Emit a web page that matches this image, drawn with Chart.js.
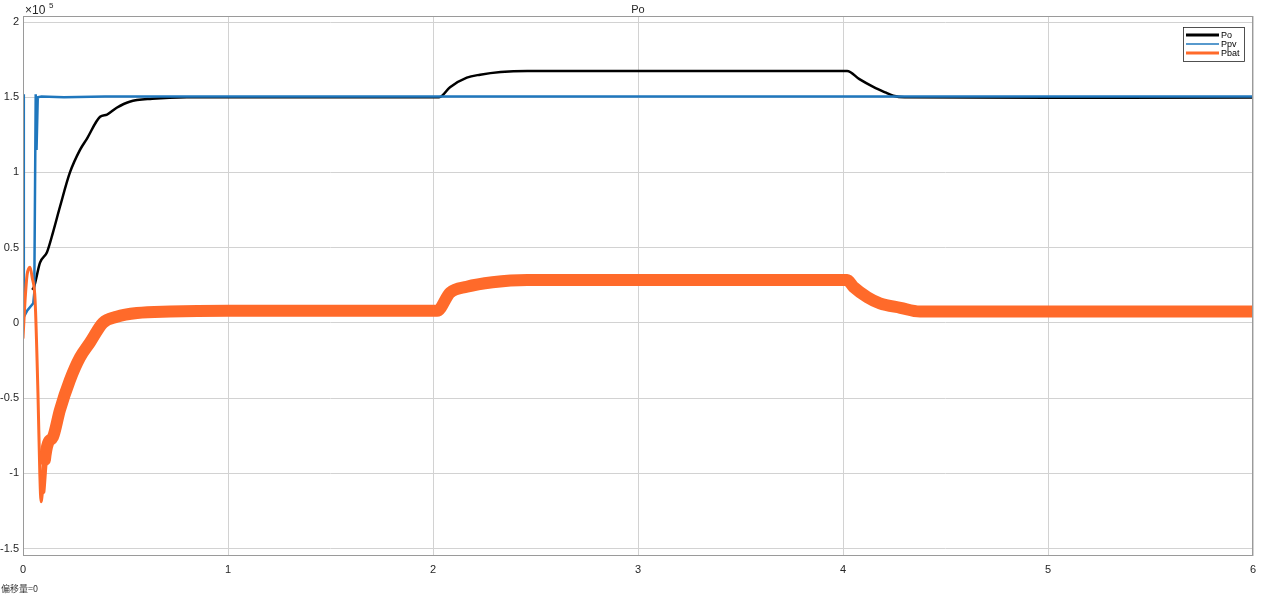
<!DOCTYPE html>
<html>
<head>
<meta charset="utf-8">
<title>Po</title>
<script src="https://cdn.jsdelivr.net/npm/chart.js@4/dist/chart.umd.min.js"></script>
<style>
  body { margin: 0; background: #fff; }
  #wrap { width: 1264px; height: 597px; }
</style>
</head>
<body>
<div id="wrap"><canvas id="poChart" width="1264" height="597"></canvas></div>
<script>
// tiempos (s) y valores (W)
const poT   = [0.045, 0.054, 0.083, 0.117, 0.146, 0.18, 0.229, 0.278, 0.31, 0.376, 0.41, 0.457, 0.52, 0.63, 0.8, 1.5, 2.03, 2.083, 2.165, 2.23, 2.33, 2.46, 3.0, 3.5, 4.0, 4.02, 4.08, 4.15, 4.21, 4.245, 4.3, 5.0, 6.0];
const poVal = [22000, 24000, 40000, 47000, 60000, 77000, 100000, 115000, 122000, 137000, 138500, 143000, 147000, 149000, 150000, 150000, 150000, 156700, 163000, 165000, 166800, 167500, 167500, 167500, 167500, 167500, 162000, 156700, 153000, 151000, 150000, 149700, 149800];

const ppvT   = [0, 0.004, 0.02, 0.05, 0.055, 0.062, 0.066, 0.072, 0.09, 0.2, 0.4, 1.0, 6.0];
const ppvVal = [152000, 4000, 8000, 13000, 20000, 152000, 115000, 150000, 150500, 150000, 150500, 150500, 150500];

const pbatT   = [0, 0.01, 0.02, 0.034, 0.045, 0.059, 0.073, 0.082, 0.088, 0.095, 0.107, 0.122, 0.146, 0.18, 0.229, 0.278, 0.327, 0.39, 0.457, 0.556, 0.717, 1.0, 1.5, 2.0, 2.02, 2.083, 2.165, 2.29, 2.46, 3.0, 3.5, 4.0, 4.02, 4.05, 4.12, 4.18, 4.28, 4.375, 5.0, 6.0];
const pbatVal = [-10000, 15000, 32000, 37000, 30000, 15000, -47000, -100000, -119000, -112000, -91000, -80000, -76000, -58000, -38000, -23000, -13000, 0, 4000, 6500, 7500, 8000, 8000, 8000, 8000, 20000, 24000, 27000, 28500, 28500, 28500, 28500, 28500, 24000, 17000, 13000, 10000, 7500, 7500, 7500];

const xTicks = [0, 1, 2, 3, 4, 5, 6];
const yTicks = [-150000, -100000, -50000, 0, 50000, 100000, 150000, 200000];

function pares(t, v) {
    return t.map((x, i) => ({ x: x, y: v[i] }));
}

// marco, titulo, exponente, leyenda y nota inferior (estilo MATLAB)
const decoracion = {
    id: 'decoracion',
    afterDraw(chart) {
        const ctx = chart.ctx;
        const a = chart.chartArea;
        ctx.save();
        ctx.strokeStyle = '#9a9a9a';
        ctx.lineWidth = 1;
        ctx.strokeRect(a.left + 0.5, a.top + 0.5, a.right - a.left - 1, a.bottom - a.top - 1);

        ctx.fillStyle = '#262626';
        ctx.font = '11px "Liberation Sans", Arial, sans-serif';
        ctx.textAlign = 'center';
        ctx.textBaseline = 'alphabetic';
        ctx.fillText('Po', (a.left + a.right) / 2, 13);

        ctx.textAlign = 'left';
        ctx.font = '12px "Liberation Sans", Arial, sans-serif';
        ctx.fillText('\u00d710', a.left + 2, 14);
        ctx.font = '8px "Liberation Sans", Arial, sans-serif';
        ctx.fillText('5', a.left + 26, 8);

        // leyenda
        const lx = 1183, ly = 27, lw = 61, lh = 34;
        ctx.fillStyle = '#fff';
        ctx.fillRect(lx, ly, lw, lh);
        ctx.strokeStyle = '#262626';
        ctx.lineWidth = 0.8;
        ctx.strokeRect(lx + 0.5, ly + 0.5, lw, lh);
        const ys = [35, 44, 53];
        chart.data.datasets.forEach((ds, i) => {
            ctx.strokeStyle = ds.borderColor;
            ctx.lineWidth = ds.legendWidth;
            ctx.beginPath();
            ctx.moveTo(1186, ys[i]);
            ctx.lineTo(1219, ys[i]);
            ctx.stroke();
            ctx.fillStyle = '#000';
            ctx.font = '9px "Liberation Sans", Arial, sans-serif';
            ctx.textBaseline = 'middle';
            ctx.fillText(ds.label, 1221, ys[i] + 0.5);
        });

        ctx.fillStyle = '#333';
        ctx.font = '9px "Noto Sans CJK SC", sans-serif';
        ctx.textBaseline = 'alphabetic';
        ctx.fillText('偏移量=0', 1, 592);
        ctx.restore();
    }
};

const chart = new Chart(document.getElementById('poChart').getContext('2d'), {
    type: 'line',
    data: {
        datasets: [
            {
                label: 'Po',
                data: pares(poT, poVal),
                borderColor: '#000000',
                borderWidth: 2.5,
                legendWidth: 3,
                cubicInterpolationMode: 'monotone',
                pointRadius: 0,
                fill: false,
                order: 3
            },
            {
                label: 'Ppv',
                data: pares(ppvT, ppvVal),
                borderColor: '#1f77bd',
                borderWidth: 2.5,
                legendWidth: 1.5,
                tension: 0,
                pointRadius: 0,
                fill: false,
                order: 2
            },
            {
                label: 'Pbat',
                data: pares(pbatT, pbatVal),
                borderColor: '#ff6a2a',
                borderWidth: 13,
                legendWidth: 3,
                borderCapStyle: 'round',
                borderJoinStyle: 'round',
                cubicInterpolationMode: 'monotone',
                pointRadius: 0,
                fill: false,
                order: 1,
                segment: {
                    borderWidth: c => c.p0.parsed.x < 0.09 ? 3 : (c.p0.parsed.x < 0.1 ? 6 : 12)
                }
            }
        ]
    },
    options: {
        responsive: false,
        animation: false,
        layout: { padding: { top: 16, right: 11, left: 0, bottom: 0 } },
        plugins: {
            legend: { display: false },
            tooltip: { enabled: false },
            title: { display: false }
        },
        scales: {
            x: {
                type: 'linear',
                min: 0,
                max: 6,
                afterBuildTicks: s => { s.ticks = xTicks.map(v => ({ value: v })); },
                afterFit: s => { s.height = 41; },
                grid: { color: '#d2d2d2', drawTicks: false },
                border: { display: false },
                ticks: {
                    padding: 7,
                    color: '#262626',
                    font: { family: '"Liberation Sans", Arial, sans-serif', size: 11 },
                    maxRotation: 0
                }
            },
            y: {
                type: 'linear',
                min: -155000,
                max: 204000,
                afterBuildTicks: s => { s.ticks = yTicks.map(v => ({ value: v })); },
                afterFit: s => { s.width = 23; },
                grid: { color: '#d2d2d2', drawTicks: false },
                border: { display: false },
                ticks: {
                    padding: 4,
                    color: '#262626',
                    font: { family: '"Liberation Sans", Arial, sans-serif', size: 11 },
                    callback: v => String(v / 100000)
                }
            }
        }
    },
    plugins: [decoracion]
});
</script>
</body>
</html>
